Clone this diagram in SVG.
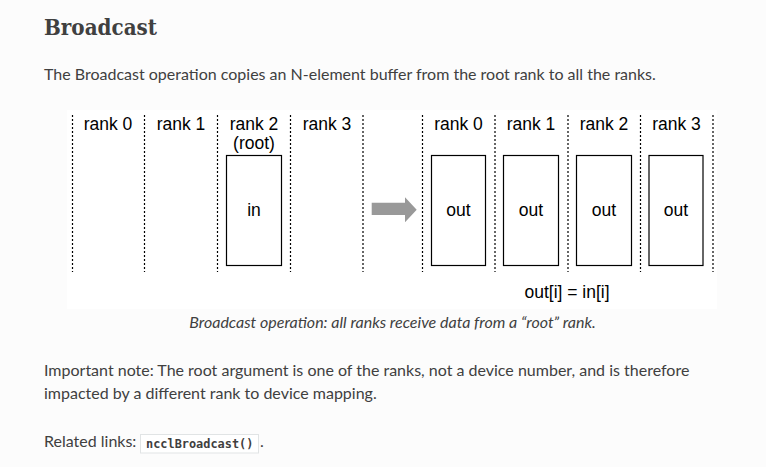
<svg xmlns="http://www.w3.org/2000/svg" width="766" height="467" viewBox="0 0 766 467">
<style>
.body{font-family:Lato,"Noto Sans",sans-serif;font-size:16px;fill:#404040}
.dg{font-family:"Liberation Sans",Arial,sans-serif;font-size:17.5px;fill:#000}
.sep{stroke:#000;stroke-width:1.2;stroke-dasharray:2,2;fill:none}
.buf{fill:#fff;stroke:#000;stroke-width:1.2}
</style>
<rect width="766" height="467" fill="#fcfcfc"/>
<text x="44" y="35" font-family="'DejaVu Serif',serif" font-weight="bold" font-size="22" fill="#404040" textLength="113" lengthAdjust="spacingAndGlyphs">Broadcast</text>
<text class="body" x="44" y="80">The Broadcast operation copies an N-element buffer from the root rank to all the ranks.</text>
<rect x="67" y="110" width="650" height="199" fill="#fff"/>
<g id="separators">
<line class="sep" x1="72.5" y1="115" x2="72.5" y2="272"/>
<line class="sep" x1="144.5" y1="115" x2="144.5" y2="272"/>
<line class="sep" x1="217.5" y1="115" x2="217.5" y2="272"/>
<line class="sep" x1="290.5" y1="115" x2="290.5" y2="272"/>
<line class="sep" x1="363" y1="115" x2="363" y2="272"/>
<line class="sep" x1="422.5" y1="115" x2="422.5" y2="272"/>
<line class="sep" x1="495" y1="115" x2="495" y2="272"/>
<line class="sep" x1="568" y1="115" x2="568" y2="272"/>
<line class="sep" x1="640.5" y1="115" x2="640.5" y2="272"/>
<line class="sep" x1="713" y1="115" x2="713" y2="272"/>
</g>
<g id="labels" class="dg" text-anchor="middle">
<text x="108" y="130">rank 0</text>
<text x="181" y="130">rank 1</text>
<text x="254" y="130">rank 2</text>
<text x="254" y="149">(root)</text>
<text x="327" y="130">rank 3</text>
<text x="458.5" y="130">rank 0</text>
<text x="531" y="130">rank 1</text>
<text x="604" y="130">rank 2</text>
<text x="676.5" y="130">rank 3</text>
</g>
<g id="in-buffer">
<rect class="buf" x="226.5" y="155.5" width="55" height="110"/>
<text class="dg" x="254" y="216" text-anchor="middle">in</text>
</g>
<g id="connectors">
<polygon points="371.7,202.7 405,202.7 405,197.3 416.7,209.8 405,222.3 405,215 371.7,215" fill="#999"/>
</g>
<g id="out-r0">
<rect class="buf" x="431.5" y="155.5" width="54" height="110"/>
<text class="dg" x="458.5" y="216" text-anchor="middle">out</text>
</g>
<g id="out-r1">
<rect class="buf" x="503.5" y="155.5" width="55" height="110"/>
<text class="dg" x="531" y="216" text-anchor="middle">out</text>
</g>
<g id="out-r2">
<rect class="buf" x="576.5" y="155.5" width="55" height="110"/>
<text class="dg" x="604" y="216" text-anchor="middle">out</text>
</g>
<g id="out-r3">
<rect class="buf" x="649" y="155.5" width="54" height="110"/>
<text class="dg" x="676" y="216" text-anchor="middle">out</text>
</g>
<text class="dg" x="567" y="298" text-anchor="middle">out[i] = in[i]</text>
<text class="body" x="392.5" y="328" text-anchor="middle" font-style="italic" font-size="15">Broadcast operation: all ranks receive data from a “root” rank.</text>
<text class="body" x="44" y="376">Important note: The root argument is one of the ranks, not a device number, and is therefore</text>
<text class="body" x="44" y="399">impacted by a different rank to device mapping.</text>
<text class="body" x="44" y="447">Related links:</text>
<rect x="140.5" y="434.5" width="118" height="18.5" fill="#fff" stroke="#e1e4e5" stroke-width="1"/>
<text x="146" y="447.5" font-family="'DejaVu Sans Mono','Liberation Mono',monospace" font-weight="bold" font-size="11.9" fill="#404040">ncclBroadcast()</text>
<text class="body" x="260" y="447">.</text>
</svg>
